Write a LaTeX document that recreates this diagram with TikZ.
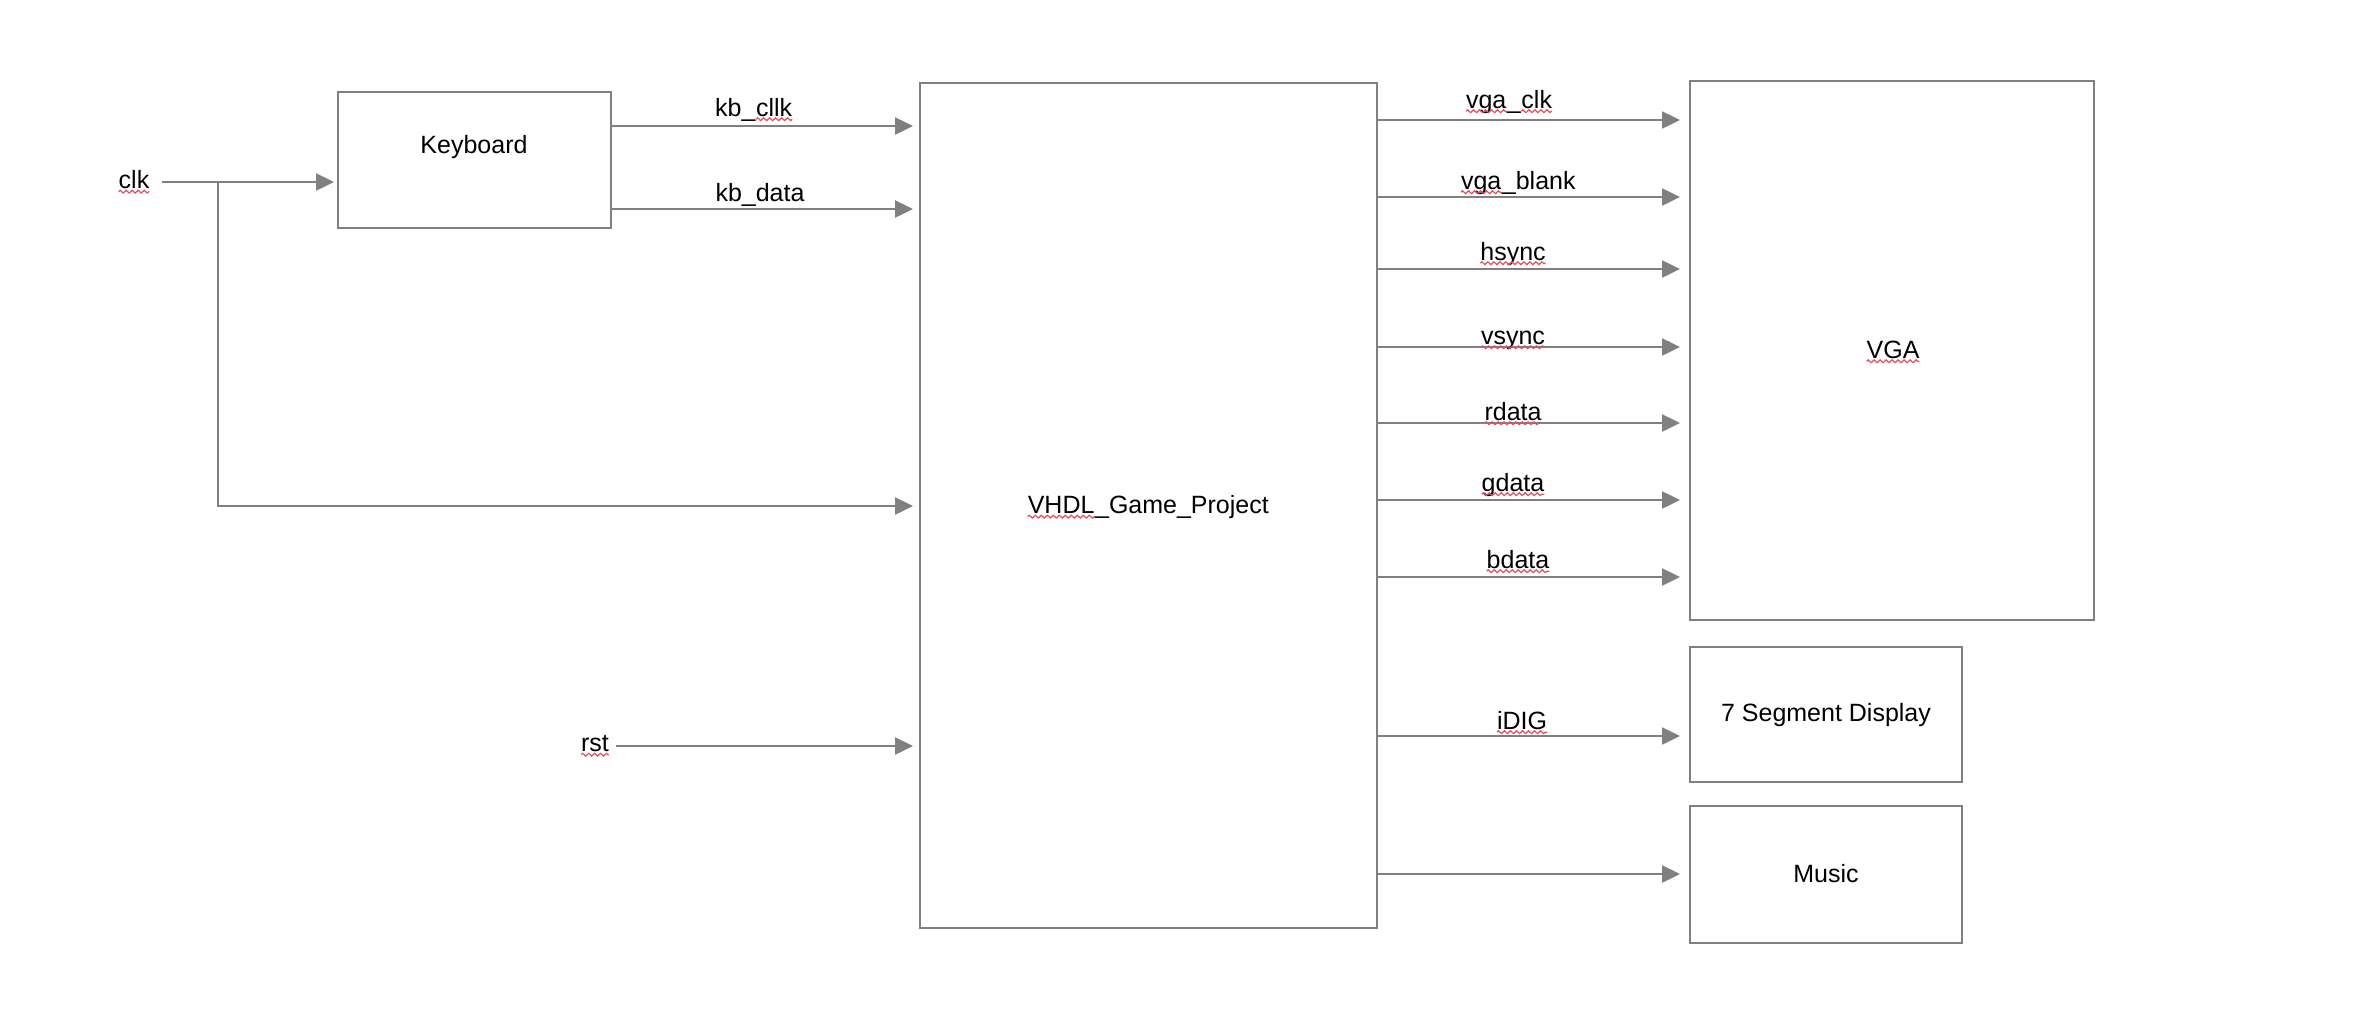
\documentclass[tikz,border=0pt]{standalone}
\usepackage{fontspec}
\setmainfont{Liberation Sans}
\usetikzlibrary{arrows.meta,decorations.pathmorphing,fit}
\definecolor{lgray}{HTML}{808080}
\definecolor{spell}{HTML}{E0505F}
\tikzset{
  box/.style={draw=lgray, line width=1pt, inner sep=0pt, outer sep=0pt},
  wire/.style={draw=lgray, line width=1.2pt},
  arr/.style={wire, -{Triangle[length=9pt,width=8.5pt]}, shorten >=3.5pt},
  arrr/.style={arr, shorten >=5pt},
  txt/.style={inner sep=0pt, outer sep=0pt, font=\fontsize{12.5pt}{14pt}\selectfont, text=black},
  squig/.style={draw=spell, line width=0.6pt, decorate, decoration={zigzag, amplitude=0.7pt, segment length=3pt}},
}
\newcommand\sq[1]{\tikz[baseline=(w.base)]{\node[inner sep=0pt,outer sep=0pt,anchor=base](w){#1};\draw[squig]([yshift=-1.6pt]w.base west)--([yshift=-1.6pt]w.base east);}}
\begin{document}
\begin{tikzpicture}[x=0.5pt,y=-0.5pt]
\useasboundingbox (0,0) rectangle (2354,1018);
\fill[white] (0,0) rectangle (2354,1018);
% boxes
\node[box, fit={(338,92) (611,228)}] (kb) {};
\node[box, fit={(920,83) (1377,928)}] (game) {};
\node[box, fit={(1690,81) (2094,620)}] (vga) {};
\node[box, fit={(1690,647) (1962,782)}] (seg) {};
\node[box, fit={(1690,806) (1962,943)}] (music) {};
% box texts
\node[txt] (kbt) at (474,147) {Keyboard};
\node[txt] (gamet) at (1148,507) {\sq{VHDL}\_Game\_Project};
\node[txt] (vgat) at (1893,352) {\sq{VGA}};
\node[txt] (segt) at (1826,715) {7 Segment Display};
\node[txt] (musict) at (1826,874) {Music};
% inputs
\node[txt] (clk) at (134,182) {\sq{clk}};
\node[txt] (rst) at (595,746) {\sq{rst}};
\coordinate (clkout) at (162,182);
\coordinate (split) at (218,182);
\coordinate (rstout) at (616,746);
\draw[arr, shorten >=2pt] (clkout) -- (kb.west |- clkout);
\draw[arr] (split) |- (game.west |- 0,506);
\draw[arr] (rstout) -- (game.west |- rstout);
% keyboard outputs
\draw[arr] (kb.east |- 0,126) -- (game.west |- 0,126);
\draw[arr] (kb.east |- 0,209) -- (game.west |- 0,209);
\node[txt, anchor=base] (kbclk) at (754,116) {kb\_\sq{cllk}};
\node[txt, anchor=base] (kbdata) at (760,201) {kb\_data};
% game outputs
\foreach \y in {120,197,269,347,423,500,577}
  \draw[arrr] (game.east |- 0,\y) -- (vga.west |- 0,\y);
\draw[arrr] (game.east |- 0,736) -- (seg.west |- 0,736);
\draw[arrr] (game.east |- 0,874) -- (music.west |- 0,874);
\node[txt, anchor=base] (l1) at (1509,108) {\sq{vga}\_\sq{clk}};
\node[txt, anchor=base] (l2) at (1518,189) {\sq{vga}\_blank};
\node[txt, anchor=base] (l3) at (1513,260) {\sq{hsync}};
\node[txt, anchor=base] (l4) at (1513,344) {\sq{vsync}};
\node[txt, anchor=base] (l5) at (1513,420) {\sq{rdata}};
\node[txt, anchor=base] (l6) at (1513,491) {\sq{gdata}};
\node[txt, anchor=base] (l7) at (1518,568) {\sq{bdata}};
\node[txt, anchor=base] (l8) at (1522,729) {\sq{iDIG}};
\end{tikzpicture}
\end{document}
